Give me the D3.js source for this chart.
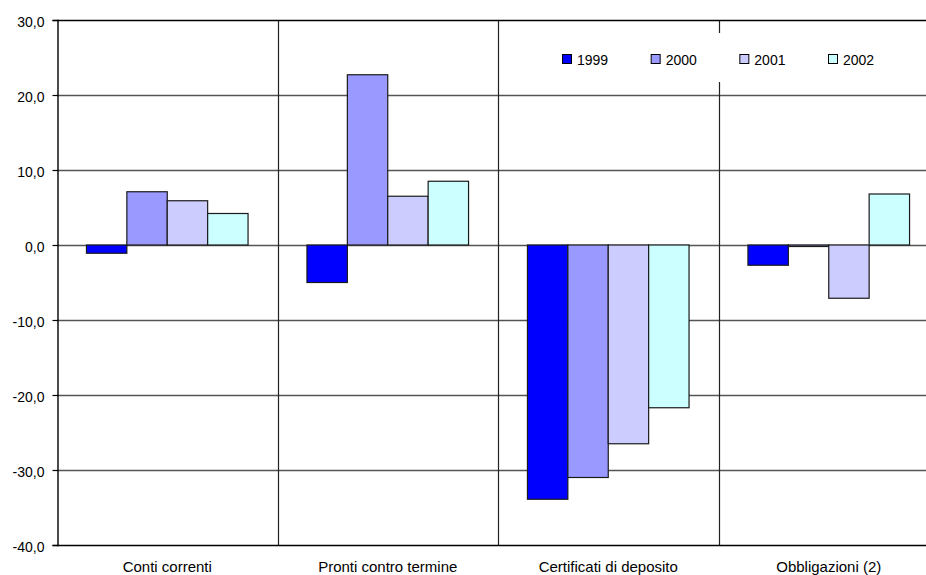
<!DOCTYPE html>
<html>
<head>
<meta charset="utf-8">
<script src="https://cdn.jsdelivr.net/npm/d3@7"></script>
<style>
  html, body { margin: 0; padding: 0; background: #fff; }
  svg { display: block; font-family: "Liberation Sans", Arial, sans-serif; }
</style>
</head>
<body>
<svg id="chart" width="926" height="575"></svg>
<script>
// Categories and yearly series (percent changes)
const categories = ["Conti correnti", "Pronti contro termine", "Certificati di deposito", "Obbligazioni (2)"];
const years = ["1999", "2000", "2001", "2002"];
const v1999 = [-1.1, -5.0, -33.9, -2.7];
const v2000 = [7.1, 22.7, -31.0, -0.2];
const v2001 = [5.9, 6.5, -26.5, -7.1];
const v2002 = [4.2, 8.5, -21.7, 6.8];
const yTicks = [30, 20, 10, 0, -10, -20, -30, -40];
const colors = ["#0000ff", "#9999ff", "#ccccff", "#ccffff"];

const series = [v1999, v2000, v2001, v2002];

const svg = d3.select("#chart");
const plotLeft = 57, plotRight = 939, plotTop = 20, plotBottom = 545;

const x0 = d3.scaleBand().domain(categories).range([plotLeft, plotRight]).padding(0);
const x1 = d3.scaleBand().domain(years).range([0, x0.bandwidth()]).paddingInner(0).paddingOuter(0.729);
const y = d3.scaleLinear().domain([-40, 30]).range([plotBottom, plotTop]);

// Italian decimal comma, plain hyphen for negatives
const fmt = v => d3.format(".1f")(v).replace(".", ",").replace("\u2212", "-");

// Horizontal gridlines
svg.append("g")
  .selectAll("line")
  .data(yTicks.filter(t => t !== 30 && t !== -40))
  .join("line")
  .attr("x1", plotLeft).attr("x2", plotRight)
  .attr("y1", d => Math.round(y(d)) + 0.5).attr("y2", d => Math.round(y(d)) + 0.5)
  .attr("stroke", "#555").attr("stroke-width", 1.3);

// Category separators
svg.append("g")
  .selectAll("line")
  .data(categories.slice(1))
  .join("line")
  .attr("x1", d => Math.round(x0(d)) + 0.5).attr("x2", d => Math.round(x0(d)) + 0.5)
  .attr("y1", plotTop).attr("y2", plotBottom)
  .attr("stroke", "#222").attr("stroke-width", 1.2);

// Bars
const groups = svg.append("g")
  .selectAll("g")
  .data(categories)
  .join("g")
  .attr("transform", d => `translate(${x0(d)},0)`);

groups.selectAll("rect")
  .data((c, i) => years.map((yr, j) => ({ yr, v: series[j][i], j })))
  .join("rect")
  .attr("x", d => x1(d.yr))
  .attr("width", x1.bandwidth())
  .attr("y", d => y(Math.max(0, d.v)))
  .attr("height", d => Math.abs(y(d.v) - y(0)))
  .attr("fill", d => colors[d.j])
  .attr("stroke", "#1a1a1a").attr("stroke-width", 1.2);

// Plot frame: top and bottom black, left axis
svg.append("line").attr("x1", plotLeft).attr("x2", plotRight).attr("y1", plotTop + 0.5).attr("y2", plotTop + 0.5)
  .attr("stroke", "#000").attr("stroke-width", 1.4);
svg.append("line").attr("x1", plotLeft).attr("x2", plotRight).attr("y1", plotBottom + 0.5).attr("y2", plotBottom + 0.5)
  .attr("stroke", "#000").attr("stroke-width", 1.4);

const yAxis = d3.axisLeft(y).tickValues(yTicks).tickFormat(fmt).tickSize(5).tickPadding(8);
const ya = svg.append("g").attr("transform", `translate(${plotLeft + 0.5},0)`).call(yAxis);
ya.select(".domain").attr("stroke", "#000").attr("stroke-width", 1.4);
ya.selectAll(".tick line").attr("stroke", "#000").attr("stroke-width", 1.2);
ya.selectAll(".tick text").attr("font-size", 14).attr("fill", "#000").attr("dy", "0.45em")
  .attr("font-family", "Liberation Sans, Arial, sans-serif");

// Category labels
svg.append("g")
  .selectAll("text")
  .data(categories)
  .join("text")
  .attr("x", d => x0(d) + x0.bandwidth() / 2)
  .attr("y", 572)
  .attr("text-anchor", "middle")
  .attr("font-size", 15)
  .attr("fill", "#000")
  .text(d => d);

// Legend with white background
const legend = svg.append("g");
legend.append("rect").attr("x", 505).attr("y", 33).attr("width", 420).attr("height", 49).attr("fill", "#fff");
const legX = d3.scalePoint().domain(years).range([562, 828]);
const items = legend.selectAll("g").data(years).join("g")
  .attr("transform", d => `translate(${legX(d)},0)`);
items.append("rect").attr("x", 0.5).attr("y", 54.5).attr("width", 9).attr("height", 9)
  .attr("fill", (d, i) => colors[i]).attr("stroke", "#000").attr("stroke-width", 1);
items.append("text").attr("x", 15).attr("y", 65).attr("font-size", 14).attr("fill", "#000").text(d => d);
</script>
</body>
</html>
